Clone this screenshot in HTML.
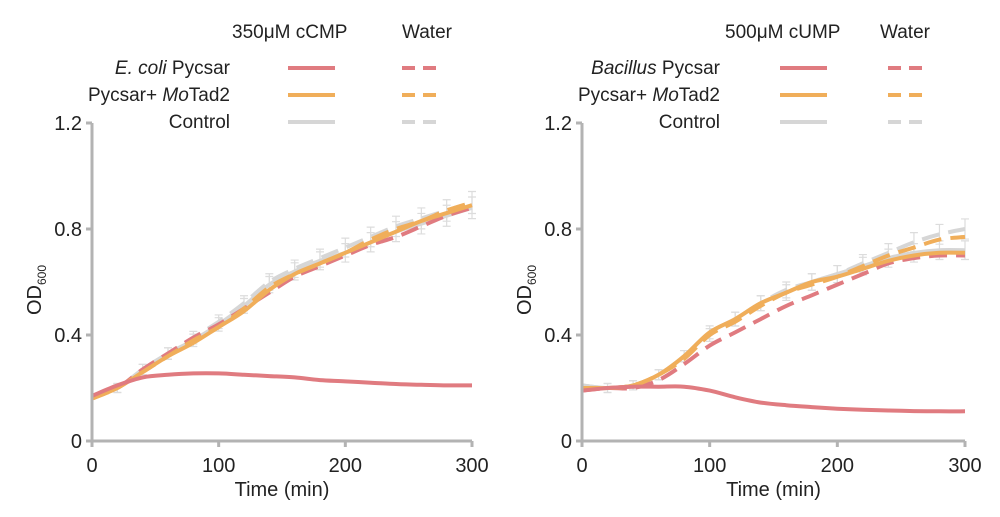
<!DOCTYPE html>
<html><head><meta charset="utf-8"><style>
body{margin:0;background:#fff;}
svg{display:block;font-family:"Liberation Sans",Arial,sans-serif;}
</style></head><body>
<svg id="chart" width="1000" height="517" viewBox="0 0 1000 517"></svg>
<script>
const times=[0,20,40,60,80,100,120,140,160,180,200,220,240,260,280,300];
const yTicks=[0,0.4,0.8,1.2];
const yTickLabels=["0","0.4","0.8","1.2"];
const xTicks=[0,100,200,300];
// Left panel
const L_pycsarDrug=[0.17,0.21,0.24,0.25,0.255,0.255,0.25,0.245,0.24,0.23,0.225,0.22,0.215,0.212,0.21,0.21];
const L_pycsarWater=[0.17,0.20,0.27,0.33,0.39,0.44,0.50,0.56,0.62,0.66,0.70,0.74,0.77,0.81,0.85,0.88];
const L_motadDrug=[0.16,0.20,0.26,0.32,0.37,0.43,0.49,0.57,0.63,0.67,0.71,0.75,0.79,0.83,0.86,0.89];
const L_motadWater=[0.16,0.20,0.26,0.32,0.38,0.43,0.50,0.58,0.63,0.67,0.71,0.76,0.80,0.83,0.87,0.90];
const L_ctrlDrug=[0.17,0.20,0.27,0.33,0.38,0.44,0.51,0.59,0.64,0.68,0.71,0.75,0.79,0.82,0.85,0.88];
const L_ctrlWater=[0.17,0.20,0.27,0.33,0.39,0.45,0.52,0.60,0.65,0.69,0.73,0.77,0.81,0.84,0.87,0.90];
// Right panel
const R_pycsarDrug=[0.19,0.20,0.205,0.205,0.205,0.19,0.165,0.145,0.135,0.128,0.122,0.118,0.115,0.113,0.112,0.112];
const R_pycsarWater=[0.19,0.20,0.20,0.23,0.29,0.36,0.41,0.46,0.51,0.55,0.59,0.63,0.67,0.69,0.70,0.70];
const R_motadDrug=[0.20,0.20,0.21,0.25,0.32,0.41,0.46,0.52,0.56,0.60,0.62,0.65,0.68,0.70,0.71,0.71];
const R_motadWater=[0.20,0.20,0.21,0.25,0.31,0.40,0.45,0.51,0.56,0.59,0.62,0.66,0.70,0.73,0.76,0.77];
const R_ctrlDrug=[0.21,0.20,0.21,0.25,0.32,0.41,0.46,0.52,0.56,0.60,0.63,0.66,0.69,0.71,0.72,0.72];
const R_ctrlWater=[0.21,0.20,0.21,0.25,0.32,0.40,0.46,0.52,0.57,0.60,0.63,0.67,0.71,0.75,0.78,0.80];

const NS="http://www.w3.org/2000/svg";
const svg=document.getElementById('chart');
const RED="#e07b80",ORANGE="#f0ae5a",GRAY="#d6d6d6",AX="#b3b3b3";
function mk(tag,attrs,parent){const e=document.createElementNS(NS,tag);for(const k in attrs)e.setAttribute(k,attrs[k]);(parent||svg).appendChild(e);return e;}
function txt(s,x,y,attrs,parent){const t=mk('text',Object.assign({x:x,y:y,'font-size':20,fill:'#222'},attrs||{}),parent);t.textContent=s;return t;}
function smooth(pts){let d='M'+pts[0][0].toFixed(1)+','+pts[0][1].toFixed(1);
  for(let i=0;i<pts.length-1;i++){const p0=pts[i-1]||pts[i],p1=pts[i],p2=pts[i+1],p3=pts[i+2]||p2;
    const c1=[p1[0]+(p2[0]-p0[0])/6,p1[1]+(p2[1]-p0[1])/6],c2=[p2[0]-(p3[0]-p1[0])/6,p2[1]-(p3[1]-p1[1])/6];
    d+=`C${c1[0].toFixed(1)},${c1[1].toFixed(1)} ${c2[0].toFixed(1)},${c2[1].toFixed(1)} ${p2[0].toFixed(1)},${p2[1].toFixed(1)}`;}
  return d;}

function panel(cfg){
  const g=mk('g',{});
  
  
  const x0=cfg.x0,x1=cfg.x1,yb=441,yt=123;
  const sx=v=>x0+(x1-x0)*v/300, sy=v=>yb-(yb-yt)*v/1.2;
  [cfg.ctrlDrug,cfg.ctrlWater].forEach(arr=>{
    times.forEach((t,i)=>{if(i==0)return;const x=sx(t),e=0.01+0.035*arr[i];
      const eb=mk('path',{d:`M${x},${sy(arr[i]-e)}V${sy(arr[i]+e)}M${x-4},${sy(arr[i]-e)}h8M${x-4},${sy(arr[i]+e)}h8`,stroke:'#dcdcdc','stroke-width':1.2,fill:'none'},g);
      
      
    });
  });
  const series=[
    [cfg.ctrlWater,GRAY,true,'control-water-line'],[cfg.ctrlDrug,GRAY,false,'control-drug-line'],
    [cfg.pycsarWater,RED,true,'pycsar-water-line'],[cfg.motadWater,ORANGE,true,'motad2-water-line'],
    [cfg.motadDrug,ORANGE,false,'motad2-drug-line'],[cfg.pycsarDrug,RED,false,'pycsar-drug-line']];
  series.forEach(([arr,c,dash,n])=>{
    const pts=times.map((t,i)=>[sx(t),sy(arr[i])]);
    const p=mk('path',{d:smooth(pts),stroke:c,'stroke-width':4,fill:'none','stroke-linejoin':'round','stroke-dasharray':dash?'18,9':'none'},g);
    
    
  });
  const ya=mk('path',{d:`M${x0},${yt}V${yb}`,stroke:AX,'stroke-width':3,fill:'none'},g);
  
  
  const xa=mk('path',{d:`M${x0},${yb}H${x1}`,stroke:AX,'stroke-width':3,fill:'none'},g);
  
  
  yTicks.forEach((v,i)=>{mk('path',{d:`M${x0-6},${sy(v)}H${x0}`,stroke:AX,'stroke-width':3},g);
    const t=txt(yTickLabels[i],x0-10,sy(v)+7,{'text-anchor':'end'},g);
    
    });
  xTicks.forEach(v=>{mk('path',{d:`M${sx(v)},${yb}V${yb+6}`,stroke:AX,'stroke-width':3},g);
    const t=txt(String(v),sx(v),yb+31,{'text-anchor':'middle'},g);
    
    });
  const xt=txt('Time (min)',(x0+x1)/2,yb+55,{'text-anchor':'middle'},g);
  
  
  const yl=mk('text',{x:0,y:0,'font-size':20,fill:'#222','text-anchor':'middle',transform:`translate(${x0-51},${290}) rotate(-90)`},g);
  yl.innerHTML='OD<tspan font-size="12" dy="5">600</tspan>';
  
  
  const lg=mk('g',{},g);
  
  
  txt(cfg.head1,cfg.h1x,38,{'font-size':19},lg);
  txt('Water',cfg.h2x,38,{'font-size':19},lg);
  const rows=[[cfg.lab1,RED],[cfg.lab2,ORANGE],['Control',GRAY]];
  rows.forEach(([lab,c],i)=>{const y=68+27*i;
    const t=mk('text',{x:cfg.labx,y:y+6,'font-size':19,fill:'#222','text-anchor':'end'},lg);
    t.innerHTML=lab;
    
    
    mk('path',{d:`M${cfg.s1},${y}h47`,stroke:c,'stroke-width':4},lg);
    mk('path',{d:`M${cfg.s2},${y}h34`,stroke:c,'stroke-width':4,'stroke-dasharray':'13,8'},lg);
  });
}
panel({name:'left-panel-cCMP',x0:92,x1:472,pycsarDrug:L_pycsarDrug,pycsarWater:L_pycsarWater,motadDrug:L_motadDrug,motadWater:L_motadWater,ctrlDrug:L_ctrlDrug,ctrlWater:L_ctrlWater,
  head1:'350μM cCMP',h1x:232,h2x:402,labx:230,s1:288,s2:402,
  lab1:'<tspan font-style="italic">E. coli</tspan> Pycsar',lab2:'Pycsar+ <tspan font-style="italic">Mo</tspan>Tad2'});
panel({name:'right-panel-cUMP',x0:582,x1:965,pycsarDrug:R_pycsarDrug,pycsarWater:R_pycsarWater,motadDrug:R_motadDrug,motadWater:R_motadWater,ctrlDrug:R_ctrlDrug,ctrlWater:R_ctrlWater,
  head1:'500μM cUMP',h1x:725,h2x:880,labx:720,s1:780,s2:888,
  lab1:'<tspan font-style="italic">Bacillus</tspan> Pycsar',lab2:'Pycsar+ <tspan font-style="italic">Mo</tspan>Tad2'});
</script>
</body></html>
